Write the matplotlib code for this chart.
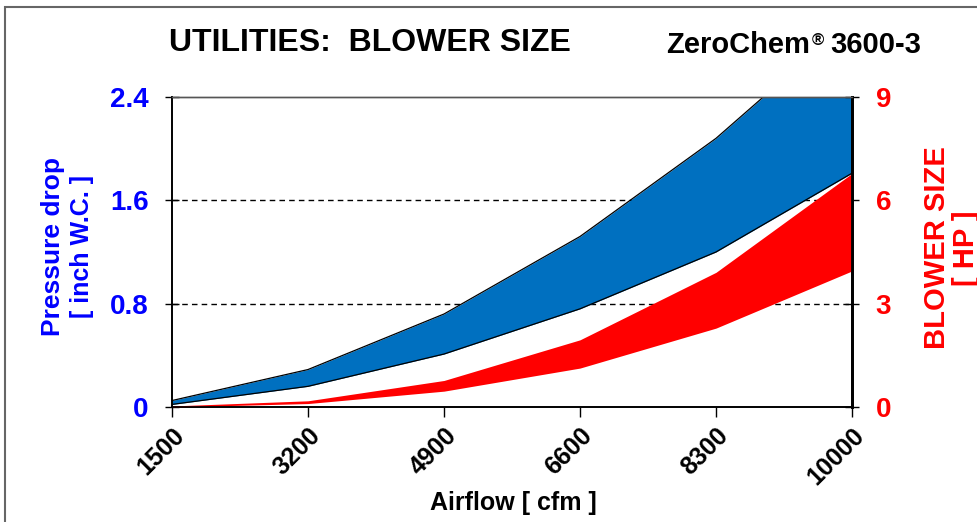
import matplotlib
matplotlib.use("Agg")
from matplotlib import pyplot as plt
from matplotlib.patches import Rectangle

# data
airflow = [1500, 3200, 4900, 6600, 8300, 10000]
pressure_low = [0.02, 0.16, 0.41, 0.76, 1.20, 1.81]
pressure_high = [0.05, 0.29, 0.72, 1.32, 2.08, 3.00]
hp_low = [0.0, 0.10, 0.46, 1.13, 2.29, 3.95]
hp_high = [0.03, 0.18, 0.77, 1.95, 3.91, 6.78]

left_ticks = [0, 0.8, 1.6, 2.4]
left_labels = ["0", "0.8", "1.6", "2.4"]
right_ticks = [0, 3, 6, 9]

blue = "#0070C0"
red = "#FF0000"
txt_blue = "#0000FF"

plt.rcParams['font.family'] = ['Liberation Sans', 'DejaVu Sans']

W, H = 978, 522
fig = plt.figure(figsize=(W / 100, H / 100), dpi=100)
ax = fig.add_axes([172 / W, 1 - 407 / H, (852 - 172) / W, (407 - 97) / H])


def fx(px):
    return px / W


def fy(py):
    return 1 - py / H


# dashed grid behind the bands
for v in [0.8, 1.6]:
    ax.axhline(v, color="black", lw=1, ls=(0, (4, 3)), zorder=0)

ax.fill_between(airflow, pressure_low, pressure_high, color=blue, lw=0, zorder=2)
ax.plot(airflow, pressure_low, color="black", lw=0.9, zorder=3)
ax.plot(airflow, pressure_high, color="black", lw=0.9, zorder=3)
ax.set_xlim(1500, 10000)
ax.set_ylim(0, 2.4)

ax2 = ax.twinx()
ax2.fill_between(airflow, hp_low, hp_high, color=red, lw=0, zorder=2)
ax2.set_ylim(0, 9)

ax.set_yticks(left_ticks)
ax.set_yticklabels(left_labels)
ax2.set_yticks(right_ticks)
ax.set_xticks(airflow)
ax.set_xticklabels([str(a) for a in airflow], rotation=45, ha="right",
                   rotation_mode="anchor", fontsize=18, fontweight="bold")

ax.tick_params(axis="y", direction="inout", length=10, width=1, colors="black",
               labelcolor=txt_blue, labelsize=20, pad=12)
ax2.tick_params(axis="y", direction="inout", length=10, width=1, colors="black",
                labelcolor=red, labelsize=20, pad=12)
for lab in ax.get_yticklabels() + ax2.get_yticklabels():
    lab.set_fontweight("bold")
ax.tick_params(axis="x", direction="out", length=7, width=1, pad=5)

for a in (ax, ax2):
    a.spines["top"].set_color("#555555")
    a.spines["top"].set_linewidth(1)
    a.spines["left"].set_linewidth(1.2)
    a.spines["bottom"].set_linewidth(1.2)
    a.spines["right"].set_linewidth(2)

# axis titles
fig.text(fx(513), fy(503), "Airflow [ cfm ]", fontsize=18, fontweight="bold",
         ha="center", va="center")
fig.text(fx(53), fy(247), "Pressure drop", fontsize=19, fontweight="bold",
         color=txt_blue, rotation=90, ha="center", va="center")
fig.text(fx(82), fy(247), "[ inch W.C. ]", fontsize=18, fontweight="bold",
         color=txt_blue, rotation=90, ha="center", va="center")
fig.text(fx(937), fy(248), "BLOWER SIZE", fontsize=21, fontweight="bold",
         color=red, rotation=90, ha="center", va="center")
fig.text(fx(966), fy(248), "[ HP ]", fontsize=21, fontweight="bold",
         color=red, rotation=90, ha="center", va="center")

# titles
fig.text(fx(370), fy(43), "UTILITIES:  BLOWER SIZE", fontsize=23,
         fontweight="bold", ha="center", va="center")
fig.text(fx(666), fy(53), "ZeroChem", fontsize=21, fontweight="bold",
         ha="left", va="baseline")
fig.text(fx(812), fy(45), "\u00ae", fontsize=12, fontweight="bold",
         ha="left", va="baseline")
fig.text(fx(830), fy(53), "3600-3", fontsize=21, fontweight="bold",
         ha="left", va="baseline")

# outer chart frame
fig.patches.append(Rectangle((fx(5), -0.1), 1.1, fy(7) + 0.1,
                             transform=fig.transFigure, fill=False,
                             edgecolor="#666666", lw=1.5))

fig.savefig("out.png", dpi=100)
